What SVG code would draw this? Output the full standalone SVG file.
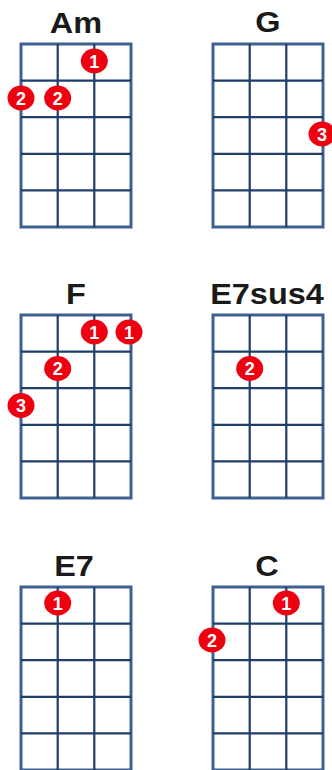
<svg xmlns="http://www.w3.org/2000/svg" width="332" height="770" viewBox="0 0 332 770">
<style>
.t{font-family:"Liberation Sans",Arial,sans-serif;font-weight:bold;font-size:29px;fill:#1a1a1a;text-anchor:middle}
.b{fill:#fff;stroke:#3f6190;stroke-width:3}
.l{stroke:#1f3f6a;stroke-width:2.2;fill:none}
.d{fill:#ee0010}
.n{font-family:"Liberation Sans",Arial,sans-serif;font-weight:bold;font-size:18px;fill:#fff;text-anchor:middle}
</style>
<defs>
<g id="grid">
<rect class="b" x="0" y="0" width="110" height="183"/>
<path class="l" d="M36.7 0V183M73.3 0V183M0 36.6H110M0 73.2H110M0 109.8H110M0 146.4H110"/>
</g>
</defs>
<rect width="332" height="770" fill="#fff"/>
<g id="Am">
<text class="t" x="76" y="33" transform="translate(76,0) scale(1.12,1) translate(-76,0)">Am</text>
<use href="#grid" x="21" y="44"/>
<ellipse class="d" cx="94.3" cy="61" rx="13.5" ry="12.5"/><text class="n" x="94.3" y="67.5">1</text>
<ellipse class="d" cx="21" cy="98" rx="13.5" ry="12.5"/><text class="n" x="21" y="104.5">2</text>
<ellipse class="d" cx="57.7" cy="98" rx="13.5" ry="12.5"/><text class="n" x="57.7" y="104.5">2</text>
</g>
<g id="G">
<text class="t" x="268" y="32" transform="translate(268,0) scale(1.12,1) translate(-268,0)">G</text>
<use href="#grid" x="213" y="44"/>
<ellipse class="d" cx="322" cy="134" rx="13.5" ry="12.5"/><text class="n" x="322" y="140.5">3</text>
</g>
<g id="F">
<text class="t" x="76" y="304" transform="translate(76,0) scale(1.12,1) translate(-76,0)">F</text>
<use href="#grid" x="21" y="315"/>
<ellipse class="d" cx="94.3" cy="332" rx="13.5" ry="12.5"/><text class="n" x="94.3" y="338.5">1</text>
<ellipse class="d" cx="129" cy="332" rx="13.5" ry="12.5"/><text class="n" x="129" y="338.5">1</text>
<ellipse class="d" cx="57.7" cy="368.5" rx="13.5" ry="12.5"/><text class="n" x="57.7" y="375">2</text>
<ellipse class="d" cx="21" cy="405.5" rx="13.5" ry="12.5"/><text class="n" x="21" y="412">3</text>
</g>
<g id="E7sus4">
<text class="t" x="267" y="304" transform="translate(267,0) scale(1.12,1) translate(-267,0)">E7sus4</text>
<use href="#grid" x="213" y="315"/>
<ellipse class="d" cx="249.7" cy="368.5" rx="13.5" ry="12.5"/><text class="n" x="249.7" y="375">2</text>
</g>
<g id="E7">
<text class="t" x="74" y="576" transform="translate(74,0) scale(1.12,1) translate(-74,0)">E7</text>
<use href="#grid" x="21" y="587"/>
<ellipse class="d" cx="57.7" cy="603" rx="13.5" ry="12.5"/><text class="n" x="57.7" y="609.5">1</text>
</g>
<g id="C">
<text class="t" x="267" y="576" transform="translate(267,0) scale(1.12,1) translate(-267,0)">C</text>
<use href="#grid" x="213" y="587"/>
<ellipse class="d" cx="286.3" cy="603" rx="13.5" ry="12.5"/><text class="n" x="286.3" y="609.5">1</text>
<ellipse class="d" cx="212" cy="640" rx="13.5" ry="12.5"/><text class="n" x="212" y="646.5">2</text>
</g>
<g id="connectors"/>
</svg>
